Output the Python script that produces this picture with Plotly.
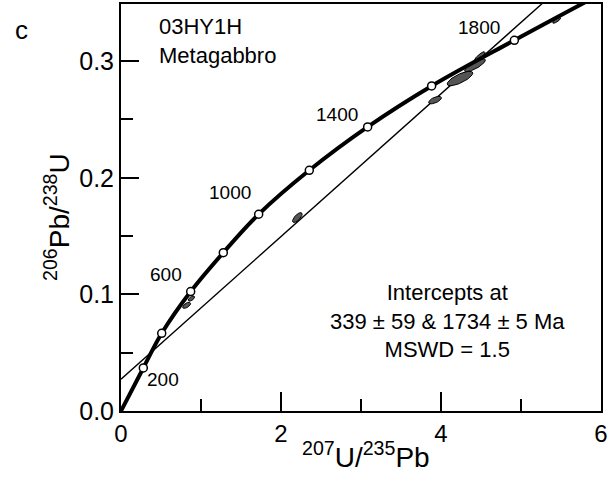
import numpy as np
import plotly.graph_objects as go

# Concordia points
conc_age = [0, 200, 400, 600, 800, 1000, 1200, 1400, 1600, 1800, 2000]
conc_x = [0.0, 0.279, 0.509, 0.871, 1.279, 1.721, 2.354, 3.083, 3.883, 4.917, 6.17]
conc_y = [0.0, 0.0369, 0.0666, 0.1024, 0.1358, 0.1687, 0.2064, 0.2436, 0.2787, 0.3179, 0.364]

# Age labels on concordia
label_age = ["200", "600", "1000", "1400", "1800"]
label_x = [0.53, 0.56, 1.36, 2.70, 4.48]
label_y = [0.0274, 0.117, 0.187, 0.254, 0.329]

# Discordia line (read endpoints)
disc_x = [0.0, 6.0]
disc_y = [0.0272, 0.3944]

# Analysis error ellipses: centre, half-widths, correlation
ell_x = [0.82, 0.88, 2.204, 3.925, 4.237, 4.425, 4.48, 5.446]
ell_y = [0.0906, 0.0964, 0.1659, 0.2666, 0.2851, 0.2965, 0.3036, 0.335]
ell_dx = [0.05, 0.04, 0.06, 0.08, 0.16, 0.13, 0.07, 0.05]
ell_dy = [0.0026, 0.0022, 0.0042, 0.0032, 0.0062, 0.0055, 0.0045, 0.0025]
ell_rho = [0.6, 0.6, 0.7, 0.6, 0.75, 0.8, 0.85, 0.8]

FONT = "Liberation Sans, Arial, sans-serif"

fig = go.Figure()

# Discordia
fig.add_trace(go.Scatter(x=disc_x, y=disc_y, mode="lines",
                         line=dict(color="black", width=1.4), hoverinfo="skip"))

# Ellipses
t = np.linspace(0, 2 * np.pi, 60)
for cx, cy, dx, dy, r in zip(ell_x, ell_y, ell_dx, ell_dy, ell_rho):
    ex = cx + dx * np.cos(t)
    ey = cy + dy * (r * np.cos(t) + np.sqrt(1 - r * r) * np.sin(t))
    fig.add_trace(go.Scatter(x=ex, y=ey, mode="lines", fill="toself",
                             fillcolor="#555555", line=dict(color="black", width=1),
                             hoverinfo="skip"))

# Concordia curve
fig.add_trace(go.Scatter(x=conc_x, y=conc_y, mode="lines", line_shape="spline",
                         line=dict(color="black", width=4), hoverinfo="skip"))
# Age markers
fig.add_trace(go.Scatter(x=conc_x[1:-1], y=conc_y[1:-1], mode="markers",
                         marker=dict(symbol="circle", size=8, color="white",
                                     line=dict(color="black", width=1.5)),
                         cliponaxis=False, hoverinfo="skip"))

annotations = []
for txt, x, y in zip(label_age, label_x, label_y):
    annotations.append(dict(x=x, y=y, xref="x", yref="y", text=txt, showarrow=False,
                            font=dict(family=FONT, size=19, color="black"),
                            xanchor="center", yanchor="middle"))

PW, PH = 480.0, 407.0
annotations += [
    dict(x=(21 - 121) / PW, y=(411 - 30) / PH, xref="paper", yref="paper", text="c",
         showarrow=False, font=dict(family=FONT, size=26, color="black"),
         xanchor="center", yanchor="middle"),
    dict(x=(157 - 121) / PW, y=(411 - 12) / PH, xref="paper", yref="paper",
         text="03HY1H<br>Metagabbro", showarrow=False, align="left",
         font=dict(family=FONT, size=22, color="black"), xanchor="left", yanchor="top"),
    dict(x=(447 - 121) / PW, y=(411 - 278) / PH, xref="paper", yref="paper",
         text="Intercepts at<br>339 \u00b1 59 &amp; 1734 \u00b1 5 Ma<br>MSWD = 1.5",
         showarrow=False, align="center",
         font=dict(family=FONT, size=22, color="black"), xanchor="center", yanchor="top"),
    dict(x=(57 - 121) / PW, y=(411 - 217) / PH, xref="paper", yref="paper",
         text="<sup>206</sup>Pb/<sup>238</sup>U", textangle=-90, showarrow=False,
         font=dict(family=FONT, size=28, color="black"), xanchor="center", yanchor="middle"),
    dict(x=(366 - 121) / PW, y=-(455 - 411) / PH, xref="paper", yref="paper",
         text="<sup>207</sup>U/<sup>235</sup>Pb", showarrow=False,
         font=dict(family=FONT, size=28, color="black"), xanchor="center", yanchor="middle"),
]

fig.update_layout(
    width=612, height=484,
    margin=dict(l=121, r=11, t=4, b=73, autoexpand=False),
    paper_bgcolor="white", plot_bgcolor="white",
    showlegend=False,
    font=dict(family=FONT, color="black"),
    annotations=annotations,
    xaxis=dict(range=[0, 6], tickvals=[0, 2, 4, 6], ticks="inside", ticklen=19,
               tickwidth=1.5, tickcolor="black",
               minor=dict(tickvals=[1, 3, 5], ticks="inside", ticklen=12,
                          tickwidth=1.5, tickcolor="black"),
               showline=True, linewidth=2, linecolor="black", mirror=True,
               showgrid=False, zeroline=False, automargin=False,
               tickfont=dict(family=FONT, size=24, color="black"), ticklabelstandoff=0),
    yaxis=dict(range=[0, 0.349], tickvals=[0, 0.1, 0.2, 0.3], tickformat=".1f",
               ticks="inside", ticklen=18, tickwidth=1.5, tickcolor="black",
               minor=dict(tickvals=[0.05, 0.15, 0.25], ticks="inside", ticklen=12,
                          tickwidth=1.5, tickcolor="black"),
               showline=True, linewidth=2, linecolor="black", mirror=True,
               showgrid=False, zeroline=False, automargin=False,
               tickfont=dict(family=FONT, size=25, color="black"), ticklabelstandoff=0),
)

fig.write_html("out.html", config={"displayModeBar": False},
               post_script="document.body.style.margin='0px';document.body.style.overflow='hidden';")
